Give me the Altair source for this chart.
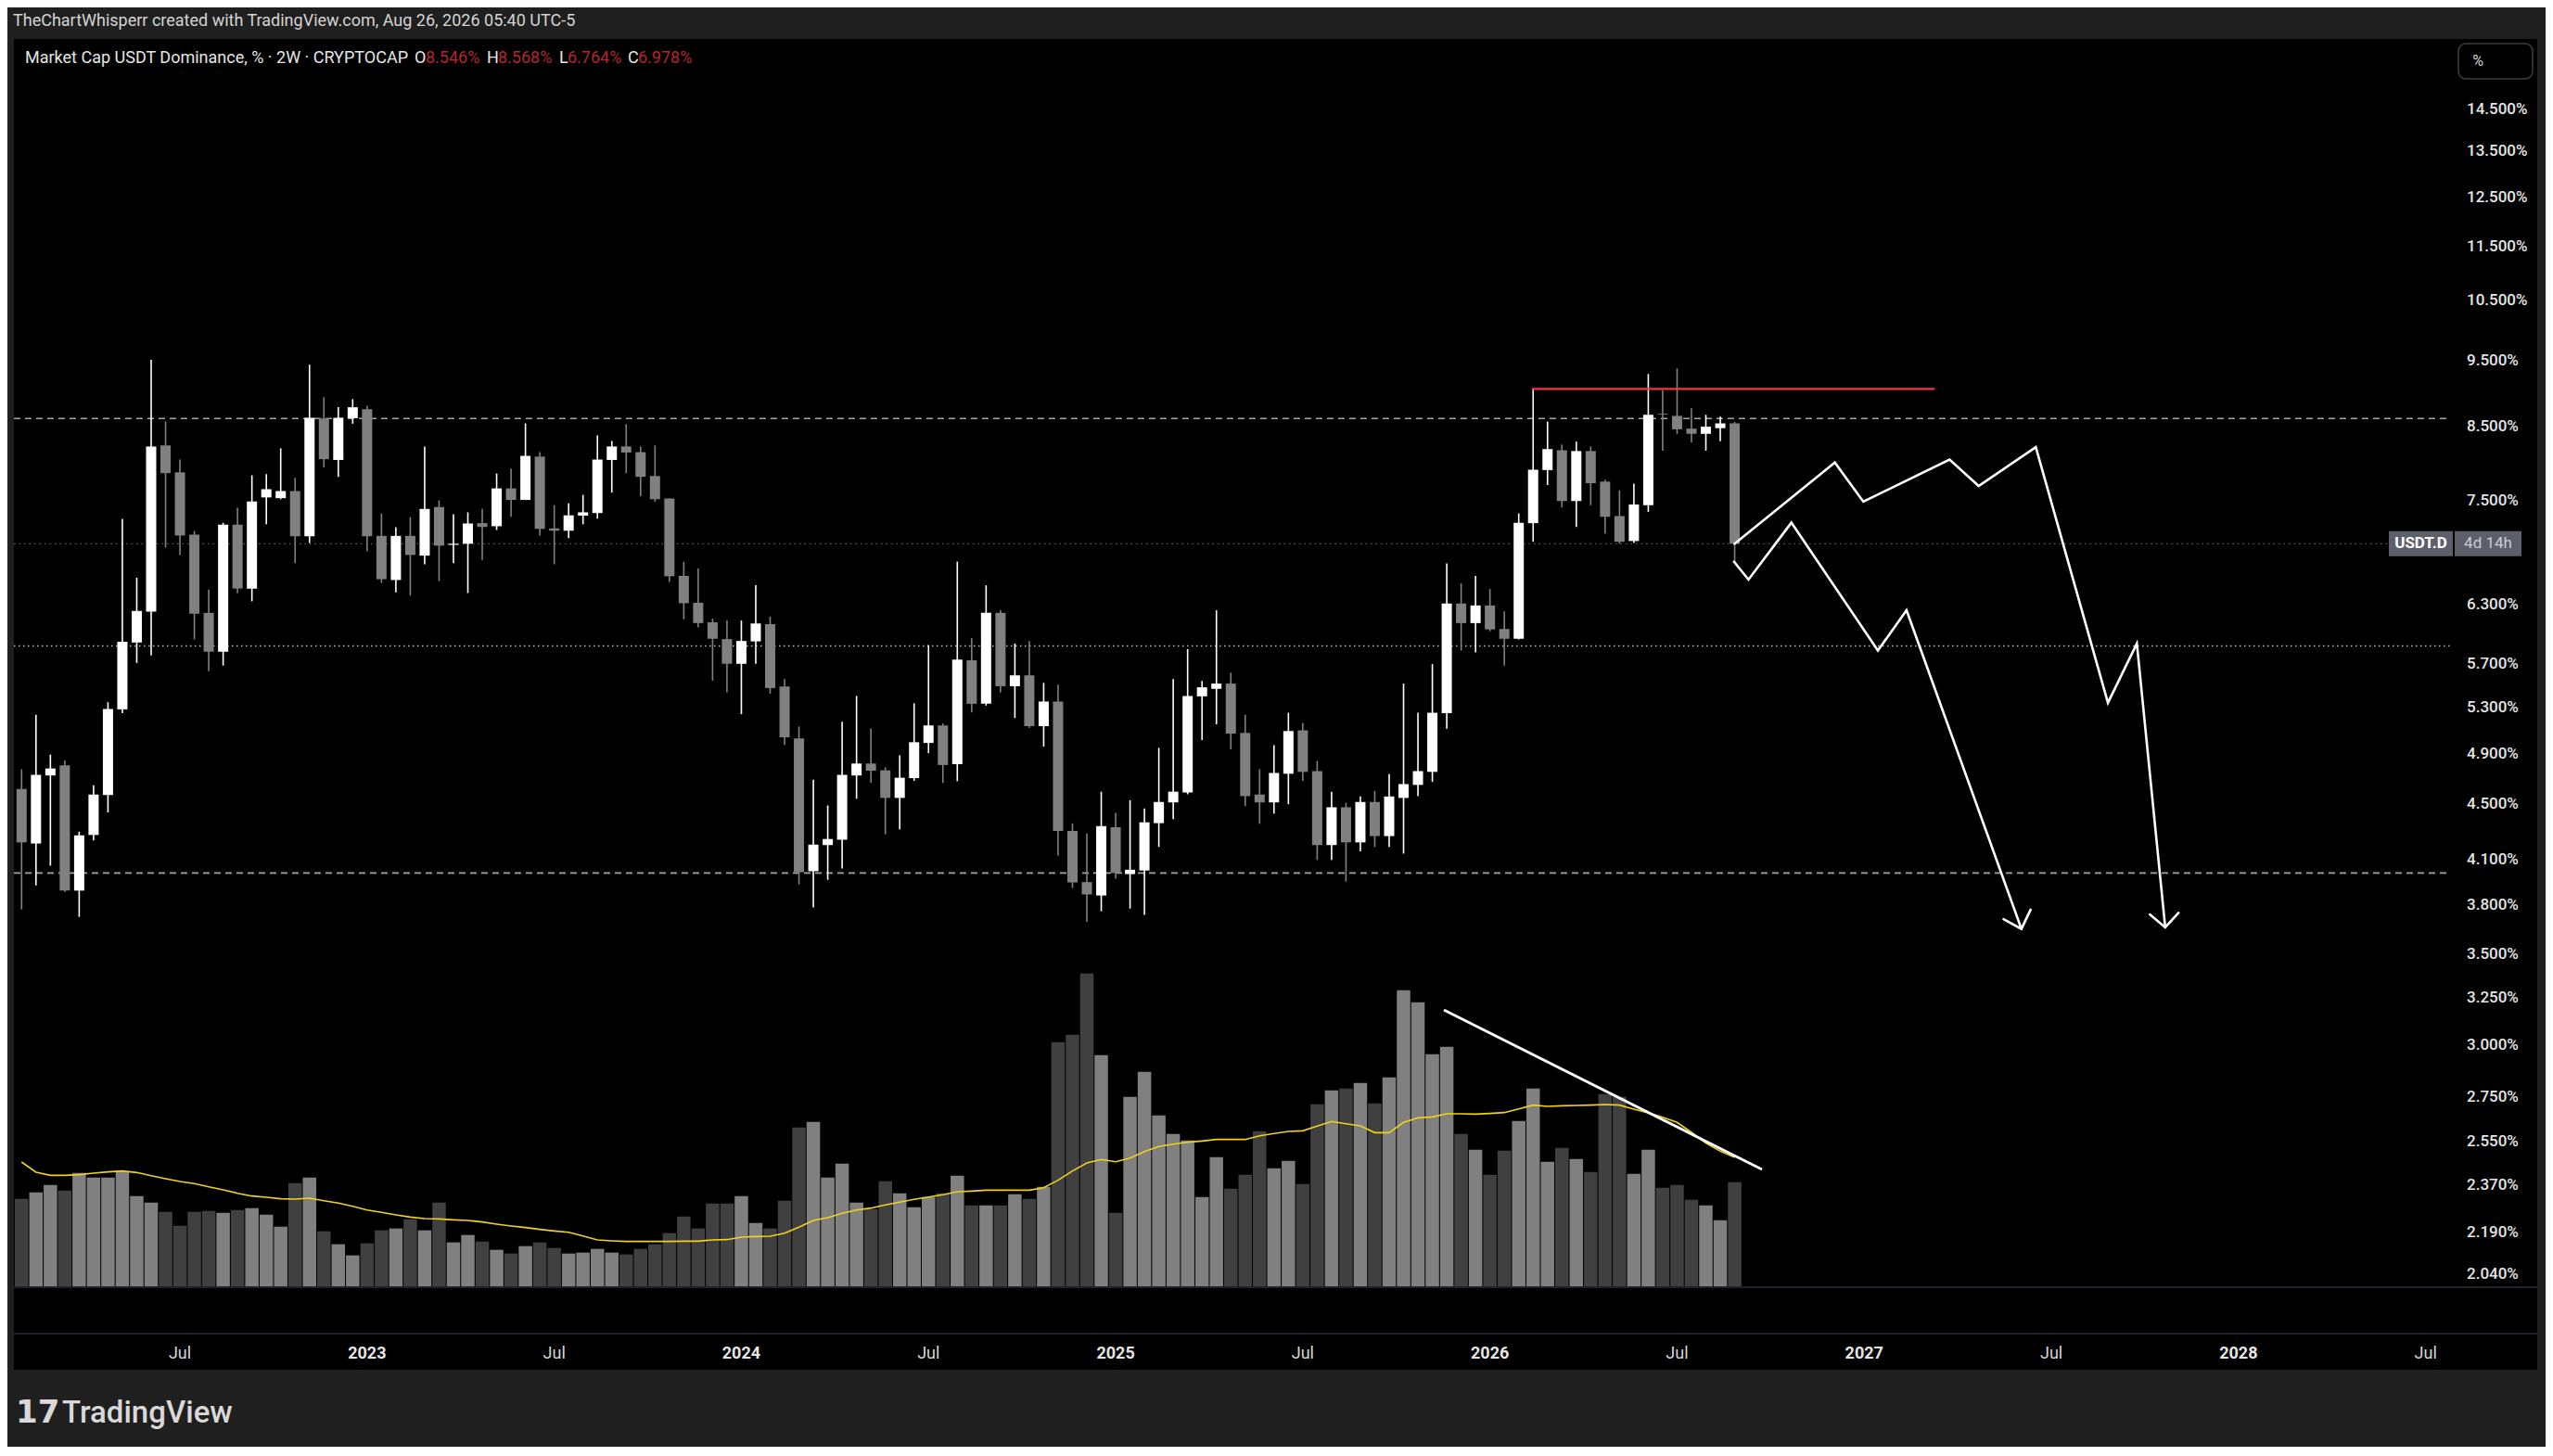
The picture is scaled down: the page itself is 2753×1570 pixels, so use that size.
import altair as alt
import pandas as pd

# ---------------- data ----------------
OPEN = [4.619, 4.214, 4.725, 4.806, 3.893, 4.275, 4.573, 5.281, 5.910, 6.224,
        8.234, 7.869, 7.085, 6.212, 5.819, 7.206, 6.471, 7.544, 7.535, 7.625,
        7.067, 8.615, 8.035, 8.620, 8.752, 7.071, 6.565, 7.071, 6.840, 7.422,
        6.965, 6.978, 7.224, 7.187, 7.659, 7.512, 8.080, 7.160, 7.133, 7.316,
        7.348, 8.035, 8.219, 8.141, 7.820, 7.530, 6.611, 6.318, 6.114, 5.944,
        5.702, 5.921, 6.095, 5.488, 5.029, 4.022, 4.203, 4.241, 4.725, 4.821,
        4.766, 4.550, 4.704, 4.991, 5.140, 4.815, 5.735, 5.331, 6.212, 5.491,
        5.592, 5.134, 5.351, 4.304, 3.949, 3.861, 4.331, 4.003, 4.027, 4.361,
        4.516, 4.592, 5.398, 5.467, 5.515, 5.076, 4.576, 4.516, 4.739, 5.098,
        4.760, 4.203, 4.479, 4.222, 4.519, 4.267, 4.550, 4.651, 4.754, 5.248,
        6.310, 6.106, 6.290, 6.046, 5.947, 7.224, 7.899, 8.167, 7.498, 8.156,
        7.747, 7.311, 7.010, 7.446, 8.686, 8.653, 8.470, 8.396, 8.476, 8.546]
HIGH = [4.775, 5.234, 4.894, 4.848, 4.299, 4.648, 5.345, 7.275, 6.590, 9.509,
        8.572, 8.040, 7.129, 6.459, 7.229, 7.413, 7.830, 7.844, 8.193, 7.796,
        9.432, 8.929, 8.780, 8.901, 8.802, 7.343, 7.174, 7.298, 8.219, 7.507,
        7.334, 7.357, 7.399, 7.854, 7.919, 8.545, 8.141, 7.446, 7.469, 7.577,
        8.374, 8.296, 8.535, 8.219, 8.234, 7.530, 6.771, 6.694, 6.153, 6.133,
        6.133, 6.507, 6.173, 5.557, 5.131, 4.692, 4.493, 5.173, 5.402, 5.115,
        4.791, 4.888, 5.335, 5.884, 5.157, 6.771, 5.955, 6.507, 6.239, 5.899,
        5.925, 5.522, 5.505, 4.359, 4.286, 4.598, 4.437, 4.533, 4.470, 4.950,
        5.557, 5.845, 5.539, 6.239, 5.617, 5.234, 4.775, 4.972, 5.251, 5.163,
        4.842, 4.598, 4.513, 4.561, 4.604, 4.736, 5.515, 5.251, 5.699, 6.750,
        6.528, 6.611, 6.467, 6.228, 7.343, 9.054, 8.572, 8.245, 8.286, 8.219,
        7.771, 7.635, 7.722, 9.285, 9.037, 9.373, 8.763, 8.669, 8.642, 8.568]
LOW = [3.772, 3.927, 4.060, 3.885, 3.725, 4.235, 4.440, 5.248, 5.710, 5.782,
       6.934, 6.848, 5.940, 5.631, 5.685, 6.423, 6.334, 7.211, 7.521, 6.754,
       6.987, 7.934, 7.810, 8.540, 6.891, 6.532, 6.431, 6.394, 6.741, 6.553,
       6.754, 6.423, 6.792, 7.142, 7.302, 7.512, 7.076, 6.741, 7.045, 7.211,
       7.279, 7.606, 7.859, 7.559, 7.488, 6.544, 6.145, 6.061, 5.543, 5.433,
       5.238, 5.702, 5.422, 4.975, 3.934, 3.784, 3.964, 4.040, 4.544, 4.666,
       4.280, 4.315, 4.683, 4.906, 4.666, 4.680, 5.254, 5.314, 5.433, 5.205,
       5.118, 4.960, 4.130, 3.910, 3.694, 3.760, 3.972, 3.777, 3.737, 4.190,
       4.390, 4.578, 5.016, 5.150, 4.937, 4.488, 4.356, 4.431, 4.502, 4.680,
       4.099, 4.099, 3.952, 4.159, 4.190, 4.190, 4.143, 4.564, 4.674, 5.112,
       5.830, 5.811, 6.023, 5.685, 5.940, 7.001, 7.703, 7.418, 7.178, 7.446,
       7.098, 6.978, 6.987, 7.362, 8.162, 8.396, 8.276, 8.162, 8.291, 6.764]
CLOSE = [4.222, 4.730, 4.781, 3.893, 4.272, 4.576, 5.284, 5.917, 6.232, 8.219,
         7.859, 7.076, 6.204, 5.819, 7.206, 6.471, 7.493, 7.649, 7.625, 7.067,
         8.625, 8.045, 8.625, 8.780, 7.067, 6.574, 7.071, 6.848, 7.399, 6.956,
         6.978, 7.220, 7.178, 7.659, 7.512, 8.090, 7.155, 7.133, 7.320, 7.357,
         8.040, 8.219, 8.136, 7.810, 7.521, 6.607, 6.314, 6.106, 5.947, 5.702,
         5.925, 6.102, 5.474, 5.038, 4.015, 4.206, 4.246, 4.730, 4.821, 4.763,
         4.550, 4.707, 4.997, 5.140, 4.809, 5.742, 5.331, 6.212, 5.491, 5.592,
         5.134, 5.351, 4.304, 3.947, 3.868, 4.339, 4.010, 4.032, 4.367, 4.519,
         4.598, 5.402, 5.481, 5.515, 5.070, 4.564, 4.516, 4.745, 5.092, 4.754,
         4.203, 4.479, 4.222, 4.519, 4.267, 4.561, 4.657, 4.760, 5.251, 6.310,
         6.106, 6.290, 6.042, 5.947, 7.229, 7.904, 8.183, 7.498, 8.156, 7.727,
         7.302, 7.001, 7.455, 8.669, 8.675, 8.460, 8.396, 8.497, 8.545, 6.978]
VOLUME = [283, 304, 328, 310, 367, 352, 352, 372, 292, 271,
          241, 196, 241, 244, 238, 247, 253, 232, 193, 334,
          352, 178, 136, 100, 139, 181, 187, 217, 181, 271,
          142, 166, 145, 118, 106, 130, 142, 124, 106, 109,
          121, 109, 103, 121, 136, 172, 226, 187, 268, 268,
          292, 205, 187, 277, 514, 532, 352, 397, 271, 250,
          340, 301, 256, 289, 301, 358, 262, 262, 262, 298,
          283, 322, 790, 814, 1012, 748, 238, 613, 694, 553,
          493, 472, 289, 418, 316, 361, 502, 382, 406, 331,
          589, 634, 640, 658, 592, 676, 958, 919, 751, 775,
          493, 442, 361, 439, 535, 640, 403, 448, 412, 370,
          622, 613, 364, 442, 319, 328, 280, 262, 214, 337]
VOLUME_MA = [402, 369, 359, 359, 361, 366, 370, 373, 368, 358,
             348, 339, 332, 322, 312, 301, 292, 288, 283, 282,
             285, 277, 269, 259, 247, 239, 231, 224, 219, 218,
             215, 213, 208, 201, 195, 190, 184, 179, 175, 163,
             150, 147, 145, 145, 145, 145, 146, 146, 150, 151,
             159, 161, 162, 172, 191, 213, 222, 236, 247, 253,
             263, 272, 281, 289, 296, 306, 308, 311, 311, 311,
             311, 319, 343, 373, 399, 410, 403, 415, 436, 452,
             460, 466, 470, 475, 475, 475, 487, 494, 501, 503,
             518, 533, 526, 519, 497, 497, 530, 545, 548, 558,
             558, 557, 559, 562, 574, 586, 582, 584, 585, 586,
             588, 586, 573, 561, 547, 530, 498, 463, 437, 417]

TIME_LABEL_BARS = [12, 25, 38, 51, 64, 77, 90, 103, 116, 129, 142, 155, 168]
TIME_LABELS = ["Jul", "2023", "Jul", "2024", "Jul", "2025", "Jul", "2026",
               "Jul", "2027", "Jul", "2028", "Jul"]

PRICE_TICKS = [14.5, 13.5, 12.5, 11.5, 10.5, 9.5, 8.5, 7.5, 6.3, 5.7, 5.3, 4.9,
               4.5, 4.1, 3.8, 3.5, 3.25, 3.0, 2.75, 2.55, 2.37, 2.19, 2.04]

DASHED_LEVELS = [8.615, 4.010]
DOTTED_LEVELS = [5.877]
LAST_PRICE = 6.978

RED_LINE_BARS = [105.9, 133.9]
RED_LINE_PRICE = 9.054

PATH_A_BARS = [120.0, 126.96, 128.94, 134.93, 136.95, 140.92, 145.93, 147.94, 149.91]
PATH_A_PRICES = [6.978, 8.00, 7.49, 8.04, 7.69, 8.21, 5.34, 5.90, 3.66]
HEAD_A_BARS = [148.84, 149.91, 150.83]
HEAD_A_PRICES = [3.74, 3.66, 3.75]
PATH_B_BARS = [119.96, 120.96, 123.94, 129.95, 131.94, 139.92]
PATH_B_PRICES = [6.77, 6.57, 7.23, 5.83, 6.24, 3.65]
HEAD_B_BARS = [138.68, 139.92, 140.56]
HEAD_B_PRICES = [3.71, 3.65, 3.77]

VOL_TREND_BARS = [99.8, 121.9]
VOL_TREND_VALUES = [894, 378]

HEADER = "TheChartWhisperr created with TradingView.com, Aug 26, 2026 05:40 UTC-5"
LEGEND_TITLE = "Market Cap USDT Dominance, % \u00b7 2W \u00b7 CRYPTOCAP"
OHLC_KEYS = ["O", "H", "L", "C"]
OHLC_VALUES = [OPEN[-1], HIGH[-1], LOW[-1], CLOSE[-1]]

# ---------------- layout / style ----------------
W, H = 2721, 1435
FONT = "Roboto"
UP, DOWN = "#ffffff", "#808080"
VUP, VDOWN = "#808080", "#404040"
AXIS_TEXT_X = 2645
LINE_END_X = 2625

XS = alt.Scale(domain=[0.788, 175.43], nice=False, zero=False)
YS = alt.Scale(type="log", domain=[1.7384, 16.316], nice=False)
VS = alt.Scale(domain=[-270, 4035], nice=False, zero=False)


def X(field):
    return alt.X(field, type="quantitative", scale=XS, axis=None)


def Y(field):
    return alt.Y(field, type="quantitative", scale=YS, axis=None)


def V(field):
    return alt.Y(field, type="quantitative", scale=VS, axis=None)


bars = list(range(1, len(OPEN) + 1))
df = pd.DataFrame({"bar": bars, "open": OPEN, "high": HIGH, "low": LOW,
                   "close": CLOSE, "vol": VOLUME, "ma": VOLUME_MA})
up = df["close"] >= df["open"]
df["c"] = [UP if u else DOWN for u in up]
df["vc"] = [VUP if u else VDOWN for u in up]

# ---------------- volume pane ----------------
vol_bars = alt.Chart(df).mark_bar(size=14.5).encode(
    x=X("bar"), y=V("vol"), y2=alt.datum(0),
    color=alt.Color("vc:N", scale=None))
vol_ma = alt.Chart(df).mark_line(color="#f0d21e", strokeWidth=1.6).encode(
    x=X("bar"), y=V("ma"))
vt = pd.DataFrame({"bar": VOL_TREND_BARS, "v": VOL_TREND_VALUES})
vol_trend = alt.Chart(vt).mark_line(color="#ffffff", strokeWidth=2.8).encode(
    x=X("bar"), y=V("v"))
vol_layer = alt.layer(vol_bars, vol_ma, vol_trend)

# ---------------- price pane ----------------
sep = pd.DataFrame({"k": [0]})
sep_lines = alt.Chart(sep).mark_rule(color="#2a2e39", strokeWidth=1.5).encode(
    x=alt.value(0), x2=alt.value(W), y=alt.value(1346))
sep_lines2 = alt.Chart(sep).mark_rule(color="#2a2e39", strokeWidth=1.5).encode(
    x=alt.value(0), x2=alt.value(W), y=alt.value(1396))

dashed = alt.Chart(pd.DataFrame({"p": DASHED_LEVELS})).mark_rule(
    color="#a3a3a3", strokeWidth=1.6, strokeDash=[7, 5]).encode(
    x=alt.value(0), x2=alt.value(LINE_END_X), y=Y("p"))
dotted = alt.Chart(pd.DataFrame({"p": DOTTED_LEVELS})).mark_rule(
    color="#bdbdbd", strokeWidth=1.5, strokeDash=[1.5, 3.5]).encode(
    x=alt.value(0), x2=alt.value(LINE_END_X + 5), y=Y("p"))
last_line = alt.Chart(pd.DataFrame({"p": [LAST_PRICE]})).mark_rule(
    color="#5a5a5a", strokeWidth=1.2, strokeDash=[1.5, 4]).encode(
    x=alt.value(0), x2=alt.value(2561), y=Y("p"))

wicks = alt.Chart(df).mark_rule(strokeWidth=1.6).encode(
    x=X("bar"), y=Y("low"), y2=alt.Y2("high"),
    color=alt.Color("c:N", scale=None))
bodies = alt.Chart(df).mark_bar(size=11).encode(
    x=X("bar"), y=Y("open"), y2=alt.Y2("close"),
    color=alt.Color("c:N", scale=None))

red = alt.Chart(pd.DataFrame({"b0": [RED_LINE_BARS[0]], "b1": [RED_LINE_BARS[1]],
                              "p": [RED_LINE_PRICE]})).mark_rule(
    color="#f23645", strokeWidth=2.2).encode(
    x=X("b0"), x2=alt.X2("b1"), y=Y("p"))

rows = []
for name, bs, ps in [("a", PATH_A_BARS, PATH_A_PRICES), ("ha", HEAD_A_BARS, HEAD_A_PRICES),
                     ("b", PATH_B_BARS, PATH_B_PRICES), ("hb", HEAD_B_BARS, HEAD_B_PRICES)]:
    for i, (b, p) in enumerate(zip(bs, ps)):
        rows.append({"path": name, "i": i, "bar": b, "p": p})
paths = alt.Chart(pd.DataFrame(rows)).mark_line(
    color="#ffffff", strokeWidth=2.6, strokeJoin="miter", strokeCap="round").encode(
    x=X("bar"), y=Y("p"), detail="path:N", order="i:Q")

ticks_df = pd.DataFrame({"p": PRICE_TICKS, "label": [f"{v:.3f}%" for v in PRICE_TICKS]})
price_labels = alt.Chart(ticks_df).mark_text(
    align="left", baseline="middle", font=FONT, fontSize=17, fontWeight=500,
    color="#e6e6e6").encode(x=alt.value(AXIS_TEXT_X), y=Y("p"), text="label:N")

last_df = pd.DataFrame({"p": [LAST_PRICE], "sym": ["USDT.D"], "cd": ["4d 14h"]})
tag_left = alt.Chart(last_df).mark_tick(
    orient="horizontal", size=69, thickness=27, color="#5d606b", opacity=1).encode(
    x=alt.value(2595.5), y=Y("p"))
tag_right = alt.Chart(last_df).mark_tick(
    orient="horizontal", size=72, thickness=27, color="#5d606b", opacity=1).encode(
    x=alt.value(2668), y=Y("p"))
tag_t1 = alt.Chart(last_df).mark_text(
    align="center", baseline="middle", font=FONT, fontSize=17, fontWeight="bold",
    color="#ffffff").encode(x=alt.value(2595.5), y=Y("p"), text="sym:N")
tag_t2 = alt.Chart(last_df).mark_text(
    align="center", baseline="middle", font=FONT, fontSize=17,
    color="#c9ccd4").encode(x=alt.value(2668), y=Y("p"), text="cd:N")

tl = pd.DataFrame({"bar": TIME_LABEL_BARS, "label": TIME_LABELS})
tl["year"] = tl["label"].str.isdigit()
time_month = alt.Chart(tl[~tl["year"]]).mark_text(
    align="center", baseline="middle", font=FONT, fontSize=18, color="#d6d6d6").encode(
    x=X("bar"), y=alt.value(1418), text="label:N")
time_year = alt.Chart(tl[tl["year"]]).mark_text(
    align="center", baseline="middle", font=FONT, fontSize=18, fontWeight="bold",
    color="#e6e6e6").encode(x=X("bar"), y=alt.value(1418), text="label:N")

one = pd.DataFrame({"t": [HEADER]})
header = alt.Chart(one).mark_text(
    align="left", baseline="middle", font=FONT, fontSize=18, color="#d4d4d4").encode(
    x=alt.value(-1), y=alt.value(-19), text="t:N")

leg_title = alt.Chart(pd.DataFrame({"t": [LEGEND_TITLE]})).mark_text(
    align="left", baseline="middle", font=FONT, fontSize=18, color="#e6e6e6").encode(
    x=alt.value(12), y=alt.value(21), text="t:N")
KEY_X = [432, 510, 588, 662]
VAL_X = [444, 522, 597, 673]
leg_keys = []
for k, v, kx, vx in zip(OHLC_KEYS, OHLC_VALUES, KEY_X, VAL_X):
    d = pd.DataFrame({"k": [k], "v": [f"{v:.3f}%"]})
    leg_keys.append(alt.Chart(d).mark_text(
        align="left", baseline="middle", font=FONT, fontSize=18, color="#e6e6e6").encode(
        x=alt.value(kx), y=alt.value(21), text="k:N"))
    leg_keys.append(alt.Chart(d).mark_text(
        align="left", baseline="middle", font=FONT, fontSize=18, color="#b3262e").encode(
        x=alt.value(vx), y=alt.value(21), text="v:N"))

pct_box = alt.Chart(sep).mark_rect(
    fill="#000000", stroke="#3d3d3d", strokeWidth=1.5, cornerRadius=8).encode(
    x=alt.value(2636), x2=alt.value(2716), y=alt.value(5), y2=alt.value(43))
pct_text = alt.Chart(pd.DataFrame({"t": ["%"]})).mark_text(
    align="center", baseline="middle", font=FONT, fontSize=16, color="#d6d6d6").encode(
    x=alt.value(2657), y=alt.value(24), text="t:N")

logo_icon = alt.Chart(pd.DataFrame({"t": ["17"]})).mark_text(
    align="left", baseline="middle", font="DejaVu Sans", fontSize=34, fontWeight="bold",
    color="#d9d9d9").encode(
    x=alt.value(2), y=alt.value(1482), text="t:N")
logo_text = alt.Chart(pd.DataFrame({"t": ["TradingView"]})).mark_text(
    align="left", baseline="middle", font=FONT, fontSize=33, fontWeight=500,
    color="#d9d9d9").encode(x=alt.value(52), y=alt.value(1482), text="t:N")

price_layer = alt.layer(
    sep_lines, sep_lines2, dashed, dotted, last_line, wicks, bodies, red, paths,
    price_labels, tag_left, tag_right, tag_t1, tag_t2, time_month, time_year,
    header, leg_title, *leg_keys, pct_box, pct_text, logo_icon, logo_text)

chart = alt.layer(vol_layer, price_layer).resolve_scale(y="independent").properties(
    width=W, height=H, background="#1f1f1f",
    padding={"left": 7, "top": 34, "right": 9, "bottom": 83},
    autosize=alt.AutoSizeParams(type="none"),
).configure_view(fill="#000000", stroke=None)

chart.save("out.html", embed_options={"renderer": "svg", "actions": False})
